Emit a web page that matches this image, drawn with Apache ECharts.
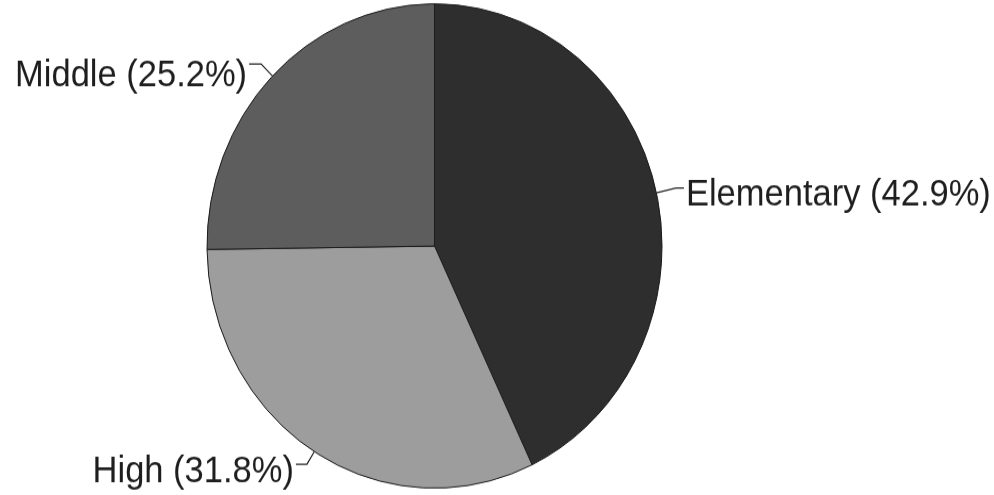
<!DOCTYPE html>
<html>
<head>
<meta charset="utf-8">
<script src="https://cdn.jsdelivr.net/npm/echarts@6/dist/echarts.min.js"></script>
<style>
html,body{margin:0;padding:0;background:#fff;overflow:hidden;width:994px;height:495px}
#wrap{width:994px;height:495px;overflow:hidden;position:relative;background:#fff}
#chart{width:994px;height:465px;transform:scale(1,1.06452);transform-origin:0 0}
</style>
</head>
<body>
<div id="wrap"><div id="chart"></div></div>
<script>
// Data
const categories = ['Elementary', 'High', 'Middle'];
const shares = [42.9, 31.8, 25.2];

// Styling (kept separate from the data)
const sliceColors = ['#2e2e2e', '#9d9d9d', '#5d5d5d'];
const lineLengths = [[20, 8], [14, 11], [16, 12]];
const labelDrop = [14, 15, 22];

const chart = echarts.init(document.getElementById('chart'), null, {renderer: 'canvas'});

const seriesData = categories.map((name, i) => ({
  name: name,
  value: shares[i],
  itemStyle: {color: sliceColors[i]},
  labelLine: {length: lineLengths[i][0], length2: lineLengths[i][1]},
  label: {
    rich: {
      e: {fontSize: 1, lineHeight: labelDrop[i]},
      t: {
        fontFamily: '"Liberation Sans", Arial, Helvetica, sans-serif',
        fontSize: 34.5,
        lineHeight: 36,
        color: '#1e1e1e'
      }
    }
  }
}));

chart.setOption({
  animation: false,
  backgroundColor: '#ffffff',
  series: [{
    type: 'pie',
    center: [434.5, 231.1],
    radius: [0, 227.5],
    startAngle: 90,
    clockwise: true,
    avoidLabelOverlap: false,
    silent: true,
    itemStyle: {borderColor: '#1c1c1c', borderWidth: 1},
    label: {
      show: true,
      position: 'outside',
      alignTo: 'none',
      distanceToLabelLine: 2,
      overflow: 'none',
      formatter: p => '{e| }\n{t|' + p.name + ' (' + p.value.toFixed(1) + '%)}',
      fontFamily: '"Liberation Sans", Arial, Helvetica, sans-serif',
      fontSize: 34.5,
      color: '#1e1e1e'
    },
    labelLine: {
      show: true,
      smooth: false,
      lineStyle: {color: '#222222', width: 1.2}
    },
    data: seriesData
  }]
});
</script>
</body>
</html>
